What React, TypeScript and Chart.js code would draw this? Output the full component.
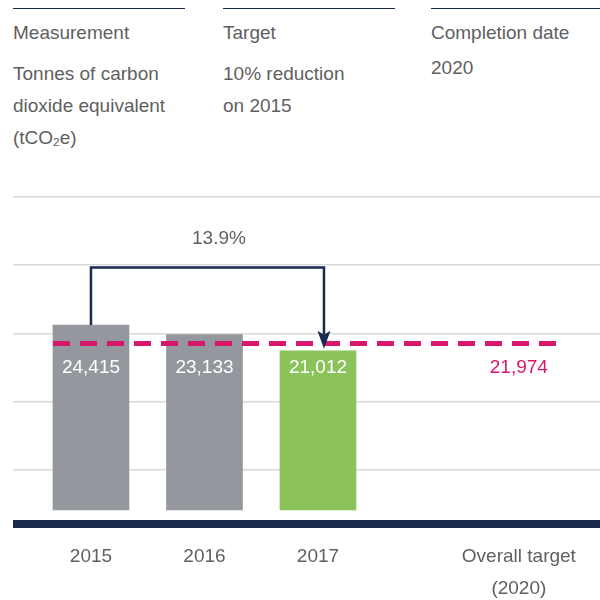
import React, { useEffect, useRef } from 'react';
import { Chart, registerables } from 'chart.js';

Chart.register(...registerables);

// ---- data ----
const categories = ['2015', '2016', '2017'];
const emissions = [24415, 23133, 21012];
const targetLabel = ['Overall target', '(2020)'];
const targetValue = 21974;
const gridValues = [5300, 14300, 23300, 32300, 41300];

// ---- style / layout ----
const NAVY = '#182a4e';
const GREY_BAR = '#95979f';
const GREEN = '#8bc35a';
const MAGENTA = '#d7176c';
const TEXT = '#606060';
const FONT = '"Liberation Sans", Arial, Helvetica, sans-serif';
const FS = 19;
const TARGET_SLOT = 3.77;
const BAR_W = 76;

const allLabels: (string | string[])[] = [...categories, targetLabel];

const overlay = {
  id: 'overlay',
  afterDatasetsDraw(chart: any) {
    const { ctx, chartArea } = chart;
    const x = chart.scales.x;
    const y = chart.scales.y;

    ctx.save();
    // baseline
    ctx.fillStyle = NAVY;
    ctx.fillRect(chartArea.left, chartArea.bottom - 4, chartArea.right - chartArea.left, 8);

    const ty = y.getPixelForValue(targetValue);
    const x0 = x.getPixelForValue(0) - BAR_W / 2;
    const x1 = x.getPixelForValue(TARGET_SLOT) + BAR_W / 2;
    // target dashed line
    ctx.strokeStyle = MAGENTA;
    ctx.lineWidth = 5;
    ctx.setLineDash([17, 10]);
    ctx.beginPath();
    ctx.moveTo(x0, ty);
    ctx.lineTo(x1, ty);
    ctx.stroke();
    ctx.setLineDash([]);

    // value labels
    const ly = ty + 24;
    ctx.font = `${FS}px ${FONT}`;
    ctx.textAlign = 'center';
    ctx.textBaseline = 'middle';
    emissions.forEach((v, i) => {
      ctx.fillStyle = '#ffffff';
      ctx.fillText(v.toLocaleString('en-US'), x.getPixelForValue(i), ly);
    });
    ctx.fillStyle = MAGENTA;
    ctx.fillText(targetValue.toLocaleString('en-US'), x.getPixelForValue(TARGET_SLOT), ly);

    // bracket arrow
    const last = emissions.length - 1;
    const bx0 = x.getPixelForValue(0);
    const bx1 = x.getPixelForValue(last) + 6;
    const top0 = y.getPixelForValue(emissions[0]);
    const topL = y.getPixelForValue(emissions[last]);
    const by = top0 - 57.5;
    ctx.strokeStyle = NAVY;
    ctx.lineWidth = 2.5;
    ctx.lineJoin = 'miter';
    ctx.beginPath();
    ctx.moveTo(bx0, top0);
    ctx.lineTo(bx0, by);
    ctx.lineTo(bx1, by);
    ctx.lineTo(bx1, topL - 16);
    ctx.stroke();
    ctx.fillStyle = NAVY;
    ctx.beginPath();
    ctx.moveTo(bx1 - 6.5, topL - 20);
    ctx.lineTo(bx1, topL - 16);
    ctx.lineTo(bx1 + 6.5, topL - 20);
    ctx.lineTo(bx1, topL - 2);
    ctx.closePath();
    ctx.fill();

    const pct = (((emissions[0] - emissions[last]) / emissions[0]) * 100).toFixed(1) + '%';
    ctx.fillStyle = TEXT;
    ctx.fillText(pct, (bx0 + bx1) / 2 + 11.5, by - 29);
    ctx.restore();
  },
};

const lineStyle = (left: number, width: number): React.CSSProperties => ({
  position: 'absolute',
  top: 7.5,
  left,
  width,
  height: 1.5,
  background: NAVY,
});

const textStyle = (left: number, top: number): React.CSSProperties => ({
  position: 'absolute',
  left,
  top,
  fontSize: FS,
  lineHeight: '32px',
  whiteSpace: 'nowrap',
});

export default function App() {
  const ref = useRef<HTMLCanvasElement>(null);

  useEffect(() => {
    if (!ref.current) return;
    const chart = new Chart(ref.current, {
      type: 'bar',
      data: {
        datasets: [
          {
            data: emissions.map((v, i) => ({ x: i, y: v })),
            backgroundColor: emissions.map((_, i) => (i === emissions.length - 1 ? GREEN : GREY_BAR)),
            barThickness: BAR_W,
            borderWidth: 0,
          } as any,
        ],
      },
      options: {
        animation: false,
        responsive: false,
        maintainAspectRatio: false,
        layout: { padding: { left: 13, right: 0, top: 17, bottom: 0 } },
        plugins: { legend: { display: false }, tooltip: { enabled: false } },
        scales: {
          x: {
            type: 'linear',
            offset: false,
            bounds: 'data',
            min: -0.687,
            max: 4.485,
            grid: { display: false, drawTicks: false, offset: false },
            border: { display: false },
            afterBuildTicks: (s: any) => {
              s.ticks = [...categories.map((_, i) => i), TARGET_SLOT].map((v) => ({ value: v }));
            },
            afterFit: (s: any) => {
              s.height = 76;
            },
            ticks: {
              autoSkip: false,
              maxRotation: 0,
              minRotation: 0,
              padding: 17,
              color: TEXT,
              font: { family: FONT, size: FS, lineHeight: '32px' as any },
              callback: (_v: any, i: number) => allLabels[i],
            },
          },
          y: {
            min: -1850,
            max: 41300,
            grid: { color: '#d9d9d9', lineWidth: 1.5, drawTicks: false },
            border: { display: false },
            ticks: { display: false },
            afterBuildTicks: (s: any) => {
              s.ticks = gridValues.map((v) => ({ value: v }));
            },
            afterFit: (s: any) => {
              s.width = 0;
            },
          },
        },
      } as any,
      plugins: [overlay],
    });
    return () => chart.destroy();
  }, []);

  return (
    <div
      style={{
        position: 'absolute',
        left: 0,
        top: 0,
        width: 600,
        height: 600,
        overflow: 'hidden',
        background: '#ffffff',
        fontFamily: FONT,
        color: TEXT,
      }}
    >
      <div style={lineStyle(13, 172)} />
      <div style={lineStyle(223, 172)} />
      <div style={lineStyle(431, 169)} />

      <div style={textStyle(13, 17)}>Measurement</div>
      <div style={textStyle(13, 58)}>
        Tonnes of carbon
        <br />
        dioxide equivalent
        <br />
        (tCO
        <sub style={{ fontSize: '0.62em', verticalAlign: '-0.15em', lineHeight: 0 }}>2</sub>
        e)
      </div>

      <div style={textStyle(223, 17)}>Target</div>
      <div style={textStyle(223, 58)}>
        10% reduction
        <br />
        on 2015
      </div>

      <div style={textStyle(431, 17)}>Completion date</div>
      <div style={textStyle(431, 52)}>2020</div>

      <canvas
        ref={ref}
        width={600}
        height={420}
        style={{ position: 'absolute', left: 0, top: 180, width: 600, height: 420 }}
      />
    </div>
  );
}
